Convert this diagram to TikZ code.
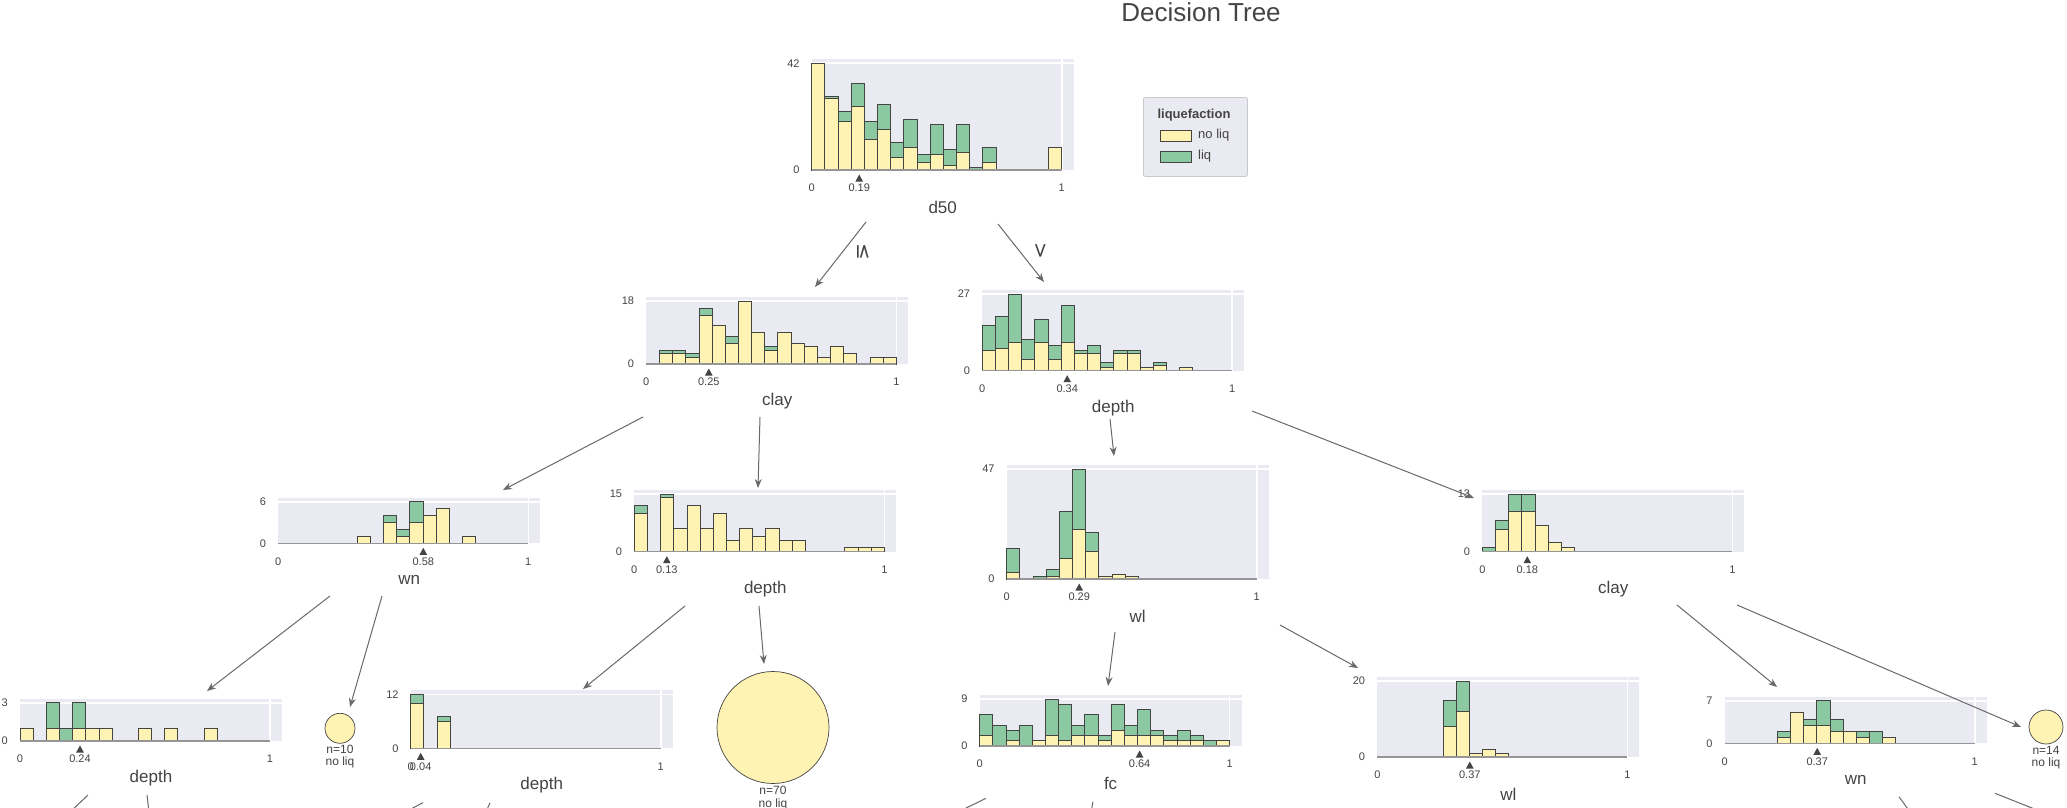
\documentclass[tikz,border=0pt]{standalone}
\usepackage{fontspec}
\setmainfont{Liberation Sans}
\newfontfamily\symfont{DejaVu Sans}
\usetikzlibrary{arrows.meta}
\definecolor{yel}{RGB}{255,243,180}
\definecolor{grn}{RGB}{140,200,162}
\definecolor{bgc}{RGB}{234,234,242}
\definecolor{txt}{RGB}{68,68,67}
\definecolor{edgec}{RGB}{105,105,105}
\definecolor{barline}{RGB}{68,68,67}
\definecolor{basec}{RGB}{150,150,150}
\definecolor{legbd}{RGB}{200,200,205}
\tikzset{
  panelbg/.style={fill=bgc, draw=none, inner sep=0pt, outer sep=0pt},
  gridl/.style={draw=white, line width=1.6pt},
  ybar/.style={fill=yel, draw=barline, line width=0.8pt},
  gbar/.style={fill=grn, draw=barline, line width=0.8pt},
  axisl/.style={draw=basec, line width=1.4pt},
  ticklbl/.style={text=txt, font=\fontsize{11}{13}\selectfont, inner sep=0pt},
  featlbl/.style={text=txt, font=\fontsize{17}{20}\selectfont, inner sep=0pt},
  leaf/.style={circle, fill=yel, draw=barline, line width=0.7pt, inner sep=0pt},
  leaflbl/.style={text=txt, font=\fontsize{12}{12.5}\selectfont, align=center, inner sep=0pt},
  edge/.style={draw=edgec, line width=1pt, -{Stealth[length=9pt,width=7pt]}},
  stub/.style={draw=edgec, line width=1pt},
  splitlbl/.style={text=txt, font=\symfont\fontsize{20}{22}\selectfont, inner sep=0pt, rotate=-90},
  titlelbl/.style={text=txt, font=\fontsize{26}{30}\selectfont, inner sep=0pt},
  legtxt/.style={text=txt, font=\fontsize{13}{15}\selectfont, inner sep=0pt},
}
% #1 name #2 x0 #3 baseline #4 height of max #5 max #6 split #7 feature #8 bars i/yellow/green
\newcommand{\histpanel}[8]{%
  \pgfmathsetmacro{\hu}{#4/#5}%
  \pgfmathsetmacro{\bw}{250/19}%
  \node[panelbg, minimum width=262pt, minimum height={(#4+4)*1pt}, anchor=south west] (#1) at (#2,#3) {};
  \draw[gridl] ({#2+250},#3) -- ++(0,{-(#4+4)});
  \draw[gridl] (#2,{#3-#4}) -- ++(262,0);
  \foreach \i/\yv/\gv in {#8}{%
    \ifnum\yv>0 \filldraw[ybar] ({#2+\i*\bw},#3) rectangle ({#2+(\i+1)*\bw},{#3-\yv*\hu});\fi
    \ifnum\gv>0 \filldraw[gbar] ({#2+\i*\bw},{#3-\yv*\hu}) rectangle ({#2+(\i+1)*\bw},{#3-(\yv+\gv)*\hu});\fi
  }
  \draw[axisl] (#2,#3) -- ++(250,0);
  \node[ticklbl, anchor=east] (#1-max) at ({#2-12},{#3-#4}) {#5};
  \node[ticklbl, anchor=east] (#1-zero) at ({#2-12},#3) {0};
  \node[ticklbl] (#1-t0) at (#2,{#3+18}) {0};
  \node[ticklbl] (#1-t1) at ({#2+250},{#3+18}) {1};
  \node[ticklbl] (#1-ts) at ({#2+#6*250},{#3+18}) {#6};
  \fill[txt] ({#2+#6*250},{#3+4.5}) -- ++(3.8,7) -- ++(-7.6,0) -- cycle;
  \node[featlbl] (#1-name) at ({#2+131},{#3+37}) {#7};
}
\begin{document}
\begin{tikzpicture}[x=1pt,y=-1pt]
\fill[white] (0,0) rectangle (2067,808);
\useasboundingbox (0,0) rectangle (2067,808);

\node[titlelbl] (title) at (1201,12) {Decision Tree};

% legend
\node[fill=bgc, draw=legbd, line width=0.8pt, rounded corners=2pt, minimum width=104pt, minimum height=79pt, anchor=north west] (legend) at (1143,97) {};
\node[legtxt, font=\bfseries\fontsize{13}{15}\selectfont] (legtitle) at (1194,115) {liquefaction};
\node[fill=yel, draw=barline, line width=0.7pt, minimum width=31pt, minimum height=11pt, inner sep=0pt, anchor=north west] (legy) at (1160,130) {};
\node[fill=grn, draw=barline, line width=0.7pt, minimum width=31pt, minimum height=11pt, inner sep=0pt, anchor=north west] (legg) at (1160,151) {};
\node[legtxt, anchor=west] (legyt) at (1198,135.5) {no liq};
\node[legtxt, anchor=west] (leggt) at (1198,156.5) {liq};

% panels
\histpanel{pd50}{811.7}{170}{106.7}{42}{0.19}{d50}{0/42/0,1/28/1,2/19/4,3/25/9,4/12/7,5/16/10,6/5/6,7/9/11,8/3/3,9/6/12,10/2/6,11/7/11,12/0/1,13/3/6,18/9/0}
\histpanel{pclay}{646.3}{364}{63}{18}{0.25}{clay}{1/3/1,2/3/1,3/2/1,4/14/2,5/11/0,6/6/2,7/18/0,8/9/0,9/4/1,10/9/0,11/6/0,12/5/0,13/2/0,14/5/0,15/3/0,17/2/0,18/2/0}
\histpanel{pdep}{982.2}{370.7}{76.7}{27}{0.34}{depth}{0/7/9,1/8/11,2/10/17,3/4/7,4/10/8,5/4/5,6/10/13,7/6/1,8/6/3,9/1/2,10/6/1,11/6/1,12/1/0,13/2/1,15/1/0}
\histpanel{pwn}{278.3}{543.3}{41.6}{6}{0.58}{wn}{6/1/0,8/3/1,9/1/1,10/3/3,11/4/0,12/5/0,14/1/0}
\histpanel{pdepm}{634.3}{551.7}{57.7}{15}{0.13}{depth}{0/10/2,2/14/1,3/6/0,4/12/0,5/6/0,6/10/0,7/3/0,8/6/0,9/4/0,10/6/0,11/3/0,12/3/0,16/1/0,17/1/0,18/1/0}
\histpanel{pwl}{1006.7}{579}{110}{47}{0.29}{wl}{0/3/10,2/0/1,3/1/3,4/9/20,5/21/26,6/12/8,7/1/0,8/2/0,9/1/0}
\histpanel{pclayr}{1482.3}{551.7}{57.7}{13}{0.18}{clay}{0/0/1,1/5/2,2/9/4,3/9/4,4/6/0,5/2/0,6/1/0}
\histpanel{pdepa}{20}{741}{38.3}{3}{0.24}{depth}{0/1/0,2/1/2,3/0/1,4/1/2,5/1/0,6/1/0,9/1/0,11/1/0,14/1/0}
\histpanel{pdepb}{410.7}{748.3}{54}{12}{0.04}{depth}{0/10/2,2/6/1}
\histpanel{pfc}{979.6}{746}{47}{9}{0.64}{fc}{0/2/4,1/0/4,2/1/2,3/0/4,4/1/0,5/2/7,6/1/7,7/2/2,8/2/4,9/1/1,10/3/5,11/2/2,12/2/5,13/2/1,14/1/1,15/1/2,16/1/1,17/0/1,18/1/0}
\histpanel{pwlb}{1377.3}{757}{76}{20}{0.37}{wl}{5/8/7,6/12/8,7/1/0,8/2/0,9/1/0}
\histpanel{pwnb}{1724.7}{743.3}{42.6}{7}{0.37}{wn}{4/1/1,5/5/0,6/3/1,7/3/4,8/2/2,9/2/0,10/1/1,11/0/2,12/1/0}

% leaves
\node[leaf, minimum size=30pt] (n10) at (340,728.3) {};
\node[leaflbl, anchor=north] (n10l) at (340,744.5) {n=10\\no liq};
\node[leaf, minimum size=112pt] (n70) at (773,727.5) {};
\node[leaflbl, anchor=north] (n70l) at (773,786) {n=70\\no liq};
\node[leaf, minimum size=34pt] (n14) at (2046,727) {};
\node[leaflbl, anchor=north] (n14l) at (2046,746) {n=14\\no liq};

% split labels
\node[splitlbl] (le) at (863,251.7) {≤};
\node[splitlbl] (gt) at (1040,250.7) {>};

% connector end points
\coordinate (d50-o1) at (866,222);   \coordinate (clay-i) at (815,287);
\coordinate (d50-o2) at (998,224);   \coordinate (dep-i) at (1044,282);
\coordinate (clay-o1) at (643,417);  \coordinate (wn-i) at (503,490);
\coordinate (clay-o2) at (760,417);  \coordinate (depm-i) at (758,488);
\coordinate (dep-o1) at (1110,419);  \coordinate (wl-i) at (1114,456);
\coordinate (dep-o2) at (1252,411);  \coordinate (clayr-i) at (1474,498);
\coordinate (wn-o1) at (330,596);    \coordinate (depa-i) at (207,691);
\coordinate (wn-o2) at (382,596);    \coordinate (n10-i) at (350,707);
\coordinate (depm-o1) at (685,606);  \coordinate (depb-i) at (583,689);
\coordinate (depm-o2) at (759,606);  \coordinate (n70-i) at (764,664);
\coordinate (wl-o1) at (1115,632);   \coordinate (fc-i) at (1108,686);
\coordinate (wl-o2) at (1280,625);   \coordinate (wlb-i) at (1358,668);
\coordinate (clayr-o1) at (1677,605); \coordinate (wnb-i) at (1777,687);
\coordinate (clayr-o2) at (1737,605); \coordinate (n14-i) at (2021,727);

\draw[edge] (d50-o1) -- (clay-i);
\draw[edge] (d50-o2) -- (dep-i);
\draw[edge] (clay-o1) -- (wn-i);
\draw[edge] (clay-o2) -- (depm-i);
\draw[edge] (dep-o1) -- (wl-i);
\draw[edge] (dep-o2) -- (clayr-i);
\draw[edge] (wn-o1) -- (depa-i);
\draw[edge] (wn-o2) -- (n10-i);
\draw[edge] (depm-o1) -- (depb-i);
\draw[edge] (depm-o2) -- (n70-i);
\draw[edge] (wl-o1) -- (fc-i);
\draw[edge] (wl-o2) -- (wlb-i);
\draw[edge] (clayr-o1) -- (wnb-i);
\draw[edge] (clayr-o2) -- (n14-i);

% stubs of edges leaving the picture
\coordinate (depa-o1) at (88,795);    \coordinate (depa-c1) at (70,812);
\coordinate (depa-o2) at (147,795);   \coordinate (depa-c2) at (149,812);
\coordinate (depb-o1) at (423,802.7); \coordinate (depb-c1) at (405,812);
\coordinate (depb-o2) at (490,802.7); \coordinate (depb-c2) at (486,812);
\coordinate (fc-o1) at (986,798.3);   \coordinate (fc-c1) at (958,812);
\coordinate (fc-o2) at (1093,801.7);  \coordinate (fc-c2) at (1091,812);
\coordinate (wnb-o1) at (1899,796.7); \coordinate (wnb-c1) at (1910,812);
\coordinate (wnb-o2) at (1995,793.3); \coordinate (wnb-c2) at (2042,812);
\draw[stub] (depa-o1) -- (depa-c1);
\draw[stub] (depa-o2) -- (depa-c2);
\draw[stub] (depb-o1) -- (depb-c1);
\draw[stub] (depb-o2) -- (depb-c2);
\draw[stub] (fc-o1) -- (fc-c1);
\draw[stub] (fc-o2) -- (fc-c2);
\draw[stub] (wnb-o1) -- (wnb-c1);
\draw[stub] (wnb-o2) -- (wnb-c2);
\end{tikzpicture}
\end{document}
